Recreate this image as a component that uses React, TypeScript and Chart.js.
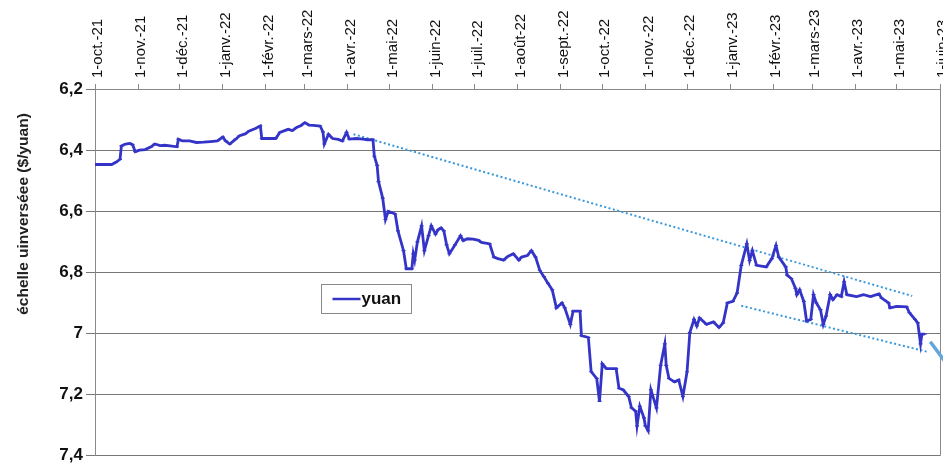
import React, { useEffect, useRef } from "react";
import { Chart, registerables } from "chart.js";

Chart.register(...registerables);

// X axis: first day of each month (top axis), with the French labels
const tickDates = [
  "2021-10-01", "2021-11-01", "2021-12-01", "2022-01-01", "2022-02-01", "2022-03-01",
  "2022-04-01", "2022-05-01", "2022-06-01", "2022-07-01", "2022-08-01", "2022-09-01",
  "2022-10-01", "2022-11-01", "2022-12-01", "2023-01-01", "2023-02-01", "2023-03-01",
  "2023-04-01", "2023-05-01", "2023-06-01",
];
const tickLabels = [
  "1-oct.-21", "1-nov.-21", "1-déc.-21", "1-janv.-22", "1-févr.-22", "1-mars-22",
  "1-avr.-22", "1-mai-22", "1-juin-22", "1-juil.-22", "1-août-22", "1-sept.-22",
  "1-oct.-22", "1-nov.-22", "1-déc.-22", "1-janv.-23", "1-févr.-23", "1-mars-23",
  "1-avr.-23", "1-mai-23", "1-juin-23",
];
const startDate = "2021-10-01";

// yuan per dollar series: days since 1 Oct 2021, and values
const dayOffsets = [
  0, 12, 15, 18, 19, 22, 25, 27, 29, 32, 36, 40, 43, 47, 50, 54, 59, 60, 63, 68,
  73, 78, 83, 88, 92, 94, 97, 101, 104, 108, 111, 115, 119, 120, 124, 130, 133, 139, 142, 145,
  148, 151, 154, 157, 162, 164, 165, 168, 171, 175, 178, 181, 183, 188, 193, 196, 200, 201, 203, 204,
  207, 209, 211, 216, 218, 222, 224, 228, 229, 230, 232, 235, 237, 240, 242, 245, 247, 249, 251, 253,
  255, 259, 263, 265, 268, 272, 276, 278, 282, 284, 287, 290, 294, 297, 301, 305, 307, 311, 314, 317,
  320, 323, 326, 329, 332, 336, 338, 342, 344, 349, 350, 355, 357, 361, 363, 365, 368, 375, 377, 380,
  384, 386, 389, 390, 392, 395, 396, 398, 400, 404, 407, 410, 411, 413, 417, 420, 423, 426, 428, 431,
  433, 435, 440, 445, 449, 452, 455, 459, 462, 465, 469, 471, 473, 476, 483, 487, 490, 492, 497, 498,
  501, 504, 505, 507, 510, 512, 515, 517, 519, 522, 524, 526, 529, 531, 534, 537, 539, 541, 548, 553,
  558, 564, 566, 571, 572, 577, 584, 586, 590, 592, 594, 595, 597,
];
const yuanValues = [
  6.447, 6.447, 6.44, 6.43, 6.386, 6.38, 6.378, 6.382, 6.405, 6.4, 6.398, 6.39, 6.38, 6.385, 6.384, 6.386, 6.389, 6.364, 6.37, 6.37,
  6.375, 6.374, 6.372, 6.37, 6.357, 6.37, 6.38, 6.365, 6.353, 6.347, 6.337, 6.33, 6.321, 6.362, 6.362, 6.362, 6.342, 6.332, 6.336, 6.326,
  6.32, 6.31, 6.318, 6.319, 6.321, 6.34, 6.38, 6.348, 6.362, 6.365, 6.37, 6.342, 6.364, 6.362, 6.364, 6.366, 6.366, 6.42, 6.45, 6.503,
  6.557, 6.627, 6.6, 6.609, 6.664, 6.729, 6.788, 6.788, 6.739, 6.76, 6.7, 6.648, 6.729, 6.68, 6.648, 6.675, 6.66, 6.654, 6.664, 6.71,
  6.739, 6.71, 6.68, 6.696, 6.69, 6.691, 6.695, 6.702, 6.705, 6.707, 6.75, 6.755, 6.76, 6.748, 6.739, 6.76, 6.75, 6.745, 6.729, 6.75,
  6.793, 6.814, 6.836, 6.857, 6.916, 6.9, 6.916, 6.97, 6.927, 6.927, 7.007, 7.013, 7.125, 7.147, 7.222, 7.099, 7.115, 7.115, 7.179, 7.184,
  7.206, 7.243, 7.254, 7.302, 7.238, 7.276, 7.302, 7.318, 7.184, 7.243, 7.104, 7.034, 7.104, 7.147, 7.158, 7.152, 7.206, 7.125, 6.997, 6.954,
  6.975, 6.949, 6.97, 6.962, 6.98, 6.965, 6.9, 6.895, 6.868, 6.777, 6.707, 6.761, 6.729, 6.777, 6.782, 6.755, 6.712, 6.75, 6.782, 6.809,
  6.82, 6.852, 6.873, 6.857, 6.895, 6.959, 6.954, 6.873, 6.9, 6.922, 6.97, 6.943, 6.873, 6.889, 6.873, 6.879, 6.831, 6.873, 6.879, 6.873,
  6.879, 6.87, 6.884, 6.9, 6.916, 6.911, 6.913, 6.932, 6.954, 6.965, 7.034, 7.002, 7.002,
];

// Channel (dotted trend lines) and the arrow: [day, value] end points
const upperTrendDays = [186, 588];
const upperTrendValues = [6.348, 6.877];
const lowerTrendDays = [465, 600];
const lowerTrendValues = [6.909, 7.061];
const arrowDays = [601, 622];
const arrowValues = [7.027, 7.155];

const yTicks = [6.2, 6.4, 6.6, 6.8, 7, 7.2, 7.4];

const FONT = "'Liberation Sans', Arial, sans-serif";
const LINE_COLOR = "#3434c8";

function dayOf(date: string): number {
  const [y, m, d] = date.split("-").map(Number);
  const [y0, m0, d0] = startDate.split("-").map(Number);
  return Math.round((Date.UTC(y, m - 1, d) - Date.UTC(y0, m0 - 1, d0)) / 86400000);
}

const tickDays = tickDates.map(dayOf);

const framePlugin = {
  id: "frame",
  beforeDatasetsDraw(chart: any) {
    const { ctx, chartArea } = chart;
    ctx.save();
    ctx.strokeStyle = "#8a8a8a";
    ctx.lineWidth = 1;
    ctx.beginPath();
    ctx.moveTo(Math.round(chartArea.right) + 0.5, chartArea.top);
    ctx.lineTo(Math.round(chartArea.right) + 0.5, chartArea.bottom);
    ctx.stroke();
    ctx.restore();
  },
  afterDraw(chart: any) {
    const { ctx, chartArea } = chart;
    ctx.save();
    // y axis title
    ctx.translate(24, chartArea.top + 125);
    ctx.rotate(-Math.PI / 2);
    ctx.fillStyle = "#222";
    ctx.font = `bold 15.5px ${FONT}`;
    ctx.textAlign = "center";
    ctx.textBaseline = "middle";
    ctx.fillText("échelle uinverséee ($/yuan)", 0, 0);
    ctx.restore();

    // legend box
    const lx = chartArea.left + 226.5;
    const ly = chartArea.top + 195.5;
    ctx.save();
    ctx.fillStyle = "#fff";
    ctx.strokeStyle = "#8a8a8a";
    ctx.lineWidth = 1;
    ctx.fillRect(lx, ly, 90, 29);
    ctx.strokeRect(lx, ly, 90, 29);
    ctx.strokeStyle = LINE_COLOR;
    ctx.lineWidth = 2.5;
    ctx.beginPath();
    ctx.moveTo(lx + 11, ly + 14.5);
    ctx.lineTo(lx + 39, ly + 14.5);
    ctx.stroke();
    ctx.fillStyle = "#111";
    ctx.font = `bold 17px ${FONT}`;
    ctx.textAlign = "left";
    ctx.textBaseline = "middle";
    ctx.fillText("yuan", lx + 40, ly + 15);
    ctx.restore();
  },
};

export default function App() {
  const canvasRef = useRef<HTMLCanvasElement | null>(null);

  useEffect(() => {
    if (!canvasRef.current) return;
    const mainData = dayOffsets.map((d, i) => ({ x: d, y: yuanValues[i] }));
    const upper = upperTrendDays.map((d, i) => ({ x: d, y: upperTrendValues[i] }));
    const lower = lowerTrendDays.map((d, i) => ({ x: d, y: lowerTrendValues[i] }));
    const arrow = arrowDays.map((d, i) => ({ x: d, y: arrowValues[i] }));

    const chart = new Chart(canvasRef.current, {
      type: "line",
      data: {
        datasets: [
          {
            label: "yuan",
            data: mainData,
            borderColor: LINE_COLOR,
            backgroundColor: LINE_COLOR,
            borderWidth: 2.8,
            pointStyle: "line",
            pointRadius: 2,
            pointBorderWidth: 1.2,
            pointBorderColor: LINE_COLOR,
            tension: 0,
            order: 1,
          },
          {
            label: "upper",
            data: upper,
            borderColor: "#3a98dc",
            borderWidth: 2,
            borderDash: [2, 2.5],
            pointRadius: 0,
            order: 2,
          },
          {
            label: "lower",
            data: lower,
            borderColor: "#3a98dc",
            borderWidth: 2,
            borderDash: [2, 2.5],
            pointRadius: 0,
            order: 2,
          },
          {
            label: "arrow",
            data: arrow,
            borderColor: "#62a6de",
            borderWidth: 3.5,
            pointRadius: 0,
            clip: false as any,
            order: 0,
          },
        ],
      },
      options: {
        responsive: false,
        devicePixelRatio: 1,
        animation: false,
        layout: { padding: { left: 0, top: 0, right: 40, bottom: 7 } },
        plugins: { legend: { display: false }, tooltip: { enabled: false } },
        scales: {
          x: {
            type: "linear",
            position: "top",
            min: 0,
            max: tickDays[tickDays.length - 1],
            afterFit: (s: any) => {
              s.height = 89;
            },
            afterBuildTicks: (s: any) => {
              s.ticks = tickDays.map((v) => ({ value: v }));
            },
            ticks: {
              autoSkip: false,
              minRotation: 90,
              maxRotation: 90,
              padding: 6,
              labelOffset: 21,
              color: "#111",
              font: { family: FONT, size: 15 },
              callback: (v: any) => {
                const i = tickDays.indexOf(Number(v));
                return i >= 0 ? tickLabels[i] : "";
              },
            },
            grid: { drawOnChartArea: false, drawTicks: true, tickLength: 5, color: "#8a8a8a" },
            border: { display: true, color: "#8a8a8a" },
          },
          y: {
            type: "linear",
            reverse: true,
            min: yTicks[0],
            max: yTicks[yTicks.length - 1],
            afterFit: (s: any) => {
              s.width = 95;
            },
            afterBuildTicks: (s: any) => {
              s.ticks = yTicks.map((v) => ({ value: v }));
            },
            ticks: {
              padding: 3,
              color: "#111",
              font: { family: FONT, size: 17, weight: "bold" },
              callback: (v: any) => String(Number(Number(v).toFixed(1))).replace(".", ","),
            },
            grid: { color: "#777", tickLength: 9, lineWidth: 1 },
            border: { display: true, color: "#8a8a8a" },
          },
        },
      },
      plugins: [framePlugin],
    });
    return () => chart.destroy();
  }, []);

  return (
    <div
      style={{
        position: "absolute",
        left: 0,
        top: 0,
        width: 943,
        height: 469,
        overflow: "hidden",
        background: "#fff",
      }}
    >
      <canvas ref={canvasRef} width={980} height={469} style={{ display: "block", width: 980, height: 469 }} />
    </div>
  );
}
